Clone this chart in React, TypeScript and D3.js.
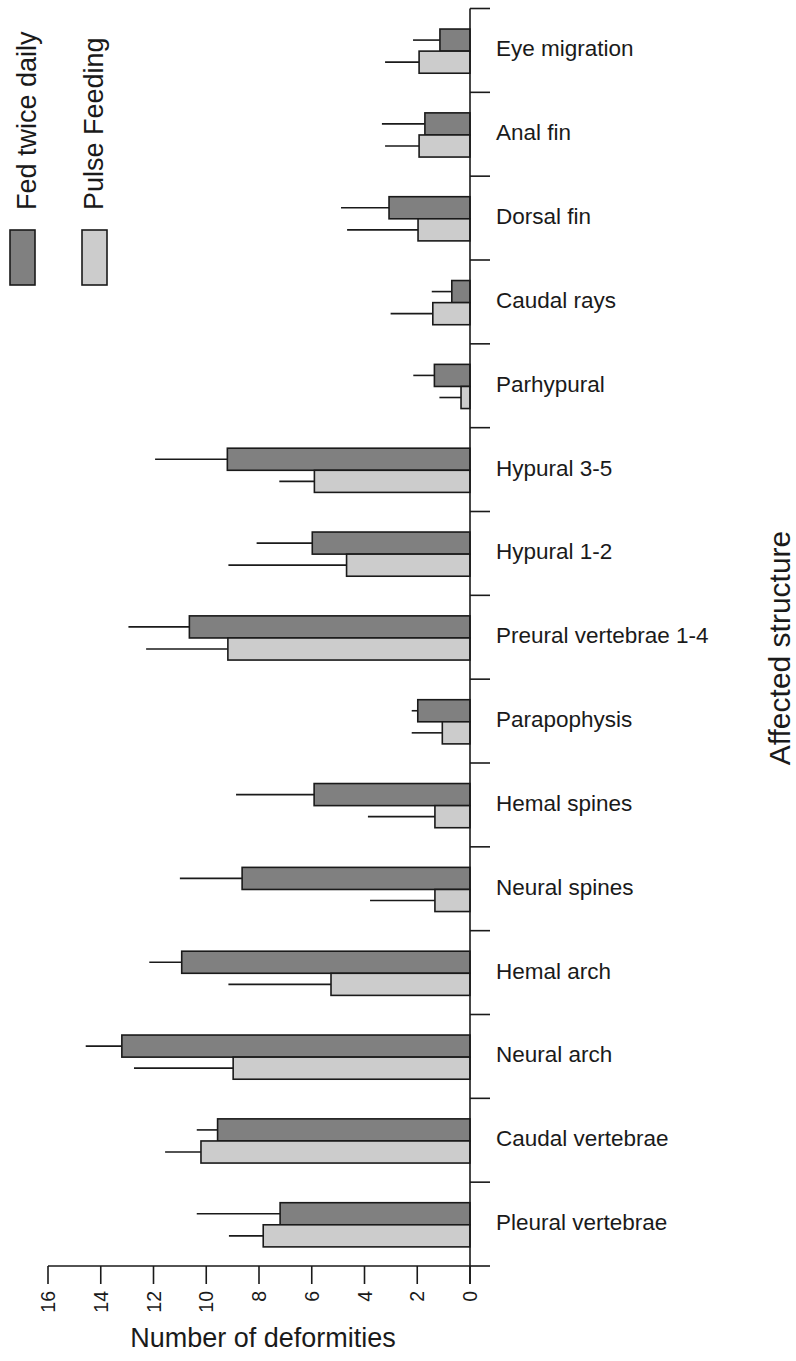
import React, { useEffect, useRef } from "react";
import * as d3 from "d3";

// categories, top to bottom
const structures: string[] = [
  "Eye migration",
  "Anal fin",
  "Dorsal fin",
  "Caudal rays",
  "Parhypural",
  "Hypural 3-5",
  "Hypural 1-2",
  "Preural vertebrae 1-4",
  "Parapophysis",
  "Hemal spines",
  "Neural spines",
  "Hemal arch",
  "Neural arch",
  "Caudal vertebrae",
  "Pleural vertebrae",
];

const fedMean: number[] = [1.14, 1.71, 3.07, 0.69, 1.35, 9.2, 5.98, 10.64, 1.98, 5.91, 8.64, 10.93, 13.2, 9.57, 7.2];
const fedUpper: number[] = [2.16, 3.34, 4.89, 1.45, 2.15, 11.94, 8.09, 12.95, 2.21, 8.87, 11.0, 12.16, 14.57, 10.36, 10.36];
const pulseMean: number[] = [1.93, 1.93, 1.97, 1.41, 0.34, 5.9, 4.68, 9.18, 1.05, 1.33, 1.33, 5.27, 8.98, 10.2, 7.84];
const pulseUpper: number[] = [3.22, 3.22, 4.66, 3.01, 1.16, 7.23, 9.16, 12.28, 2.21, 3.87, 3.79, 9.16, 12.74, 11.56, 9.14];

const xTicks: number[] = [0, 2, 4, 6, 8, 10, 12, 14, 16];
const seriesNames: string[] = ["Fed twice daily", "Pulse Feeding"];
const seriesColors: string[] = ["#808080", "#cccccc"];

const W = 796;
const H = 1361;
const FONT = "'Liberation Sans', Arial, Helvetica, sans-serif";
const INK = "#1a1a1a";

function App() {
  const ref = useRef<SVGSVGElement | null>(null);

  useEffect(() => {
    const svg = d3.select(ref.current);
    svg.selectAll("*").remove();

    const x = d3.scaleLinear().domain([0, 16]).range([470, 48]);
    const y = d3.scaleBand<string>().domain(structures).range([8.5, 1266]);
    const bw = y.bandwidth();
    const sub = d3
      .scaleBand<number>()
      .domain([0, 1])
      .range([bw * 0.245, bw * 0.772]);

    const rows = structures.map((s, i) => ({
      name: s,
      vals: [
        { k: 0, m: fedMean[i], u: fedUpper[i] },
        { k: 1, m: pulseMean[i], u: pulseUpper[i] },
      ],
    }));

    const g = svg
      .selectAll("g.row")
      .data(rows)
      .enter()
      .append("g")
      .attr("class", "row")
      .attr("transform", (d) => `translate(0,${y(d.name)})`);

    // error bars (behind bars)
    g.selectAll("line.err")
      .data((d) => d.vals)
      .enter()
      .append("line")
      .attr("x1", (d) => x(d.m))
      .attr("x2", (d) => x(d.u))
      .attr("y1", (d) => (sub(d.k) as number) + sub.bandwidth() / 2)
      .attr("y2", (d) => (sub(d.k) as number) + sub.bandwidth() / 2)
      .attr("stroke", INK)
      .attr("stroke-width", 1.6);

    g.selectAll("rect")
      .data((d) => d.vals)
      .enter()
      .append("rect")
      .attr("x", (d) => x(d.m))
      .attr("width", (d) => x(0) - x(d.m))
      .attr("y", (d) => sub(d.k) as number)
      .attr("height", sub.bandwidth())
      .attr("fill", (d) => seriesColors[d.k])
      .attr("stroke", INK)
      .attr("stroke-width", 1.6);

    // category labels
    g.append("text")
      .attr("x", 496)
      .attr("y", bw / 2 + 6)
      .attr("font-family", FONT)
      .attr("font-size", 22.5)
      .attr("fill", INK)
      .text((d) => d.name);

    // y axis with ticks between categories
    const yBottom = 1266;
    svg
      .append("line")
      .attr("x1", x(0))
      .attr("x2", x(0))
      .attr("y1", 8.5)
      .attr("y2", yBottom + 18)
      .attr("stroke", INK)
      .attr("stroke-width", 1.6);
    const bounds = structures.map((s) => y(s) as number).concat([yBottom]);
    svg
      .selectAll("line.ytick")
      .data(bounds)
      .enter()
      .append("line")
      .attr("x1", x(0))
      .attr("x2", x(0) + 20)
      .attr("y1", (d) => d)
      .attr("y2", (d) => d)
      .attr("stroke", INK)
      .attr("stroke-width", 1.6);

    // x axis
    svg
      .append("line")
      .attr("x1", x(16))
      .attr("x2", x(0))
      .attr("y1", yBottom)
      .attr("y2", yBottom)
      .attr("stroke", INK)
      .attr("stroke-width", 1.6);
    svg
      .selectAll("line.xtick")
      .data(xTicks)
      .enter()
      .append("line")
      .attr("x1", (d) => x(d))
      .attr("x2", (d) => x(d))
      .attr("y1", yBottom)
      .attr("y2", yBottom + 18)
      .attr("stroke", INK)
      .attr("stroke-width", 1.6);
    svg
      .selectAll("text.xlab")
      .data(xTicks)
      .enter()
      .append("text")
      .attr("transform", (d) => `translate(${x(d) + 7},${yBottom + 25}) rotate(-90)`)
      .attr("text-anchor", "end")
      .attr("font-family", FONT)
      .attr("font-size", 19.5)
      .attr("fill", INK)
      .text((d) => String(d));

    // axis titles
    svg
      .append("text")
      .attr("x", 263)
      .attr("y", 1347)
      .attr("text-anchor", "middle")
      .attr("font-family", FONT)
      .attr("font-size", 27)
      .attr("fill", INK)
      .text("Number of deformities");
    svg
      .append("text")
      .attr("transform", "translate(790,648) rotate(-90)")
      .attr("text-anchor", "middle")
      .attr("font-family", FONT)
      .attr("font-size", 30)
      .attr("fill", INK)
      .text("Affected structure");

    // legend
    const leg = svg
      .selectAll("g.leg")
      .data(seriesNames)
      .enter()
      .append("g")
      .attr("class", "leg");
    leg
      .append("rect")
      .attr("x", (d, i) => 10 + i * 72)
      .attr("y", 230)
      .attr("width", 25)
      .attr("height", 55)
      .attr("fill", (d, i) => seriesColors[i])
      .attr("stroke", INK)
      .attr("stroke-width", 1.6);
    leg
      .append("text")
      .attr("transform", (d, i) => `translate(${36 + i * 67},210) rotate(-90)`)
      .attr("font-family", FONT)
      .attr("font-size", 27)
      .attr("fill", INK)
      .text((d) => d);
  }, []);

  return (
    <svg
      ref={ref}
      width={W}
      height={H}
      style={{ position: "absolute", left: 0, top: 0, background: "#fff" }}
    />
  );
}

export default App;
